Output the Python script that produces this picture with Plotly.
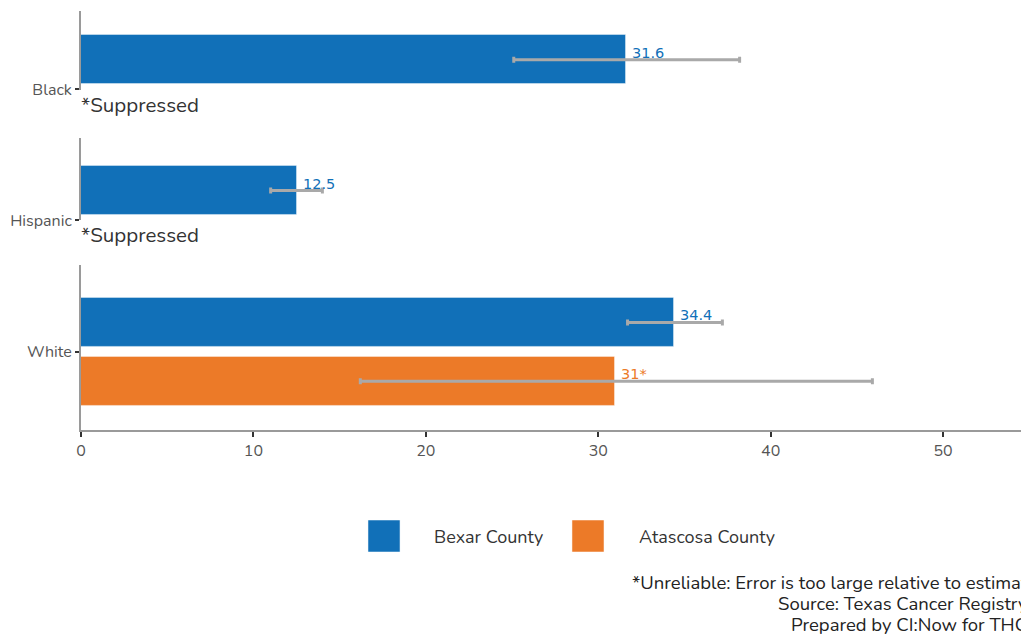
import plotly.graph_objects as go

# ---- data ----
categories = ["Black", "Hispanic", "White"]
series_names = ["Bexar County", "Atascosa County"]
series_colors = ["#1170B8", "#EC7A28"]

# values per series per category (None = suppressed)
bexar_vals = [31.6, 12.5, 34.4]
bexar_lo = [25.1, 11.0, 31.7]
bexar_hi = [38.2, 14.0, 37.2]
bexar_labels = ["31.6", "12.5", "34.4"]

atascosa_vals = [None, None, 31.0]
atascosa_lo = [None, None, 16.2]
atascosa_hi = [None, None, 45.9]
atascosa_labels = [None, None, "31*"]

x_ticks = [0, 10, 20, 30, 40, 50]
suppressed_text = "*Suppressed"
footer_lines = [
    "*Unreliable: Error is too large relative to estimate",
    "Source: Texas Cancer Registry",
    "Prepared by CI:Now for THC",
]

FONT = "Nunito, Open Sans, sans-serif"
LABEL_FONT = "DejaVu Sans, Verdana, sans-serif"
AXIS_GRAY = "#9A9A9A"
ERR_GRAY = "#A9A9A9"

# panel layout (paper coords, bottom-up): White, Hispanic, Black
domains = {"Black": [0.811, 1.0], "Hispanic": [0.501, 0.697], "White": [0.0, 0.394]}
yranges = {"Black": [-0.02, 1.33], "Hispanic": [0.0, 1.39], "White": [-1.328, 1.478]}
axis_ids = {"Black": "y", "Hispanic": "y2", "White": "y3"}
x_ids = {"Black": "x", "Hispanic": "x2", "White": "x3"}

fig = go.Figure()
annotations = []

series = [
    (bexar_vals, bexar_lo, bexar_hi, bexar_labels),
    (atascosa_vals, atascosa_lo, atascosa_hi, atascosa_labels),
]

for ci, cat in enumerate(categories):
    for si, (vals, lo, hi, labels) in enumerate(series):
        v = vals[ci]
        if v is None:
            continue
        ypos = 0.5 if si == 0 else -0.5
        fig.add_trace(go.Bar(
            x=[v], y=[ypos], orientation="h", width=0.83,
            marker=dict(color=series_colors[si], line=dict(width=1, color="rgba(255,255,255,0.4)")),
            error_x=dict(type="data", symmetric=False,
                         array=[hi[ci] - v], arrayminus=[v - lo[ci]],
                         color=ERR_GRAY, thickness=3, width=3),
            xaxis=x_ids[cat], yaxis=axis_ids[cat],
            showlegend=False, hoverinfo="skip", name=series_names[si],
        ))
        annotations.append(dict(
            x=v, y=ypos, xref=x_ids[cat], yref=axis_ids[cat],
            text=labels[ci], showarrow=False, xanchor="left", yanchor="middle",
            xshift=4, yshift=7, font=dict(family=LABEL_FONT, size=14.5, color=series_colors[si]),
        ))
    if any(s[0][ci] is None for s in series):
        annotations.append(dict(
            x=0, y=0, xref=x_ids[cat], yref=axis_ids[cat] + " domain",
            text=suppressed_text, showarrow=False, xanchor="left", yanchor="middle",
            xshift=-2, yshift=-15, font=dict(family=FONT, size=20.5, color="#333333"),
        ))

layout = dict(
    width=1021, height=634,
    margin=dict(l=81, r=0, t=11, b=204),
    paper_bgcolor="white", plot_bgcolor="white",
    font=dict(family=FONT, size=16, color="#555555"),
    showlegend=False,
    bargap=0,
)

for cat in categories:
    yk = "yaxis" + axis_ids[cat][1:]
    xk = "xaxis" + x_ids[cat][1:]
    layout[yk] = dict(
        domain=domains[cat], range=yranges[cat], anchor=x_ids[cat],
        tickvals=[0], ticktext=[cat], ticks="outside", ticklen=4, tickwidth=2,
        tickcolor="#333333", showline=True, linecolor=AXIS_GRAY, linewidth=2,
        showgrid=False, zeroline=False, fixedrange=True,
        tickfont=dict(family=FONT, size=16, color="#555555"),
    )
    is_bottom = cat == "White"
    layout[xk] = dict(
        domain=[0, 1], range=[0, 54.52], anchor=axis_ids[cat],
        tickvals=x_ticks, showticklabels=is_bottom, showline=is_bottom,
        ticks="outside" if is_bottom else "", ticklen=5, tickwidth=2, tickcolor="#333333",
        linecolor=AXIS_GRAY, linewidth=2, showgrid=False, zeroline=False,
        tickfont=dict(family=FONT, size=16, color="#555555"),
    )
    if not is_bottom:
        layout[xk]["matches"] = "x3"

fig.update_layout(**layout)

# manual legend
shapes = []
legend_x = [(0.3053, 0.3734), (0.5223, 0.5915)]
for si, name in enumerate(series_names):
    x0, tx = legend_x[si]
    shapes.append(dict(type="rect", xref="paper", yref="paper",
                       x0=x0, x1=x0 + 0.0341, y0=-0.2912, y1=-0.2148,
                       fillcolor=series_colors[si], line=dict(width=1, color="rgba(255,255,255,0.5)")))
    annotations.append(dict(x=tx, y=-0.2554, xref="paper", yref="paper", text=name,
                            showarrow=False, xanchor="left", yanchor="middle",
                            font=dict(family=FONT, size=18, color="#333333")))

# footer lines (left edges as in the reference, overflowing the right edge)
footer_x = [0.5840, 0.7394, 0.7532]
footer_y = [-0.3652, -0.4153, -0.4654]
for line, fx, fy in zip(footer_lines, footer_x, footer_y):
    annotations.append(dict(
        x=fx, y=fy, xref="paper", yref="paper", text=line, showarrow=False,
        xanchor="left", yanchor="middle", font=dict(family=FONT, size=18.5, color="#222222"),
    ))

fig.update_layout(shapes=shapes, annotations=annotations)
fig.write_html("out.html", config={"displayModeBar": False},
               post_script="document.body.style.margin='0';document.body.style.overflow='hidden';")
